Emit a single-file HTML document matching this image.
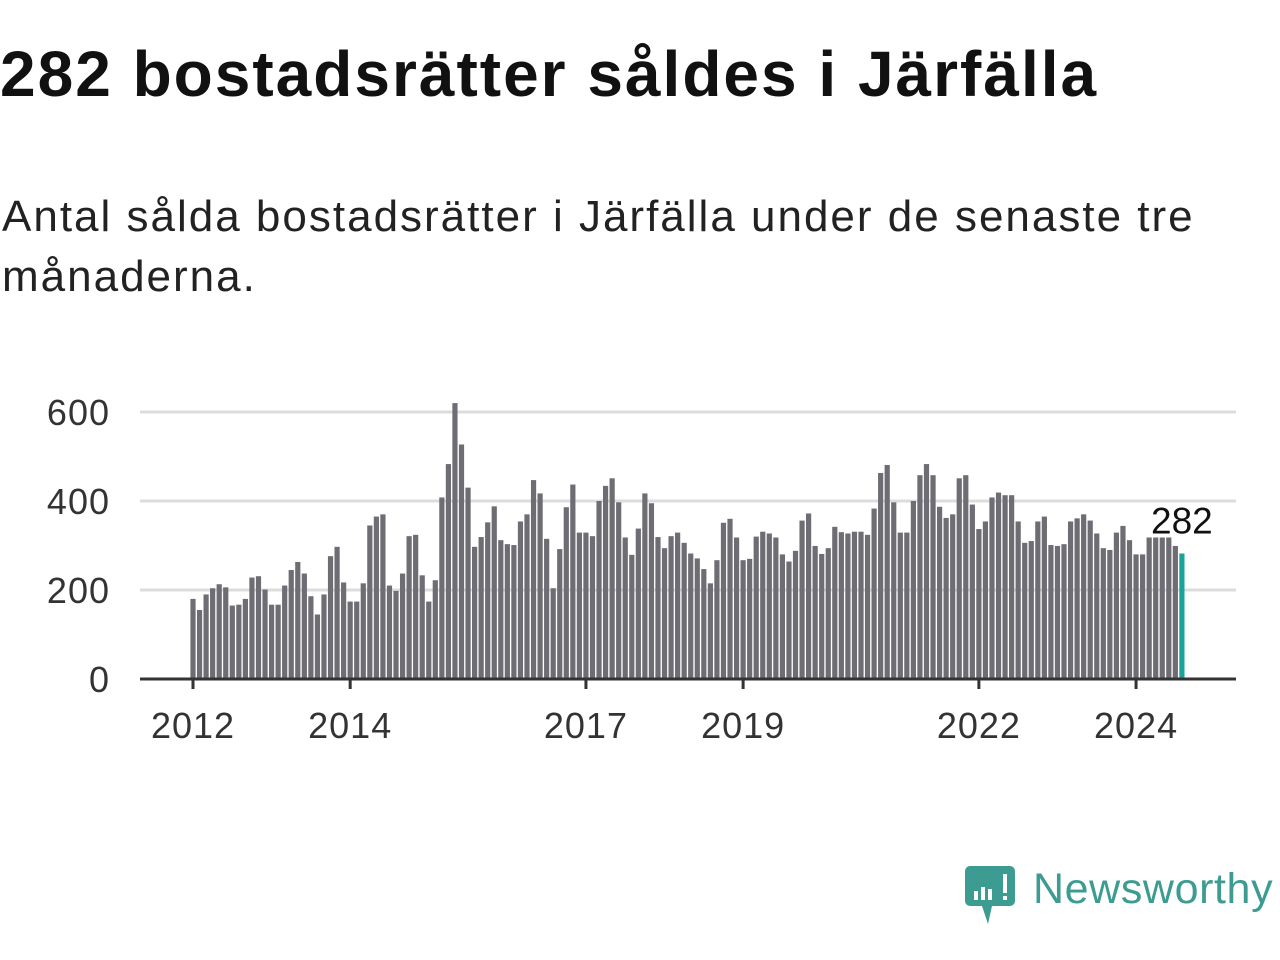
<!DOCTYPE html>
<html><head><meta charset="utf-8">
<style>
html,body{margin:0;padding:0;background:#fff;}
body{width:1280px;height:960px;position:relative;overflow:hidden;font-family:"Liberation Sans","DejaVu Sans",sans-serif;}
h1{position:absolute;left:0;top:37px;margin:0;font-size:64px;font-weight:bold;color:#111;letter-spacing:2px;}
p.sub{position:absolute;left:2px;top:187px;margin:0;font-size:44px;line-height:60px;color:#222;width:1270px;letter-spacing:2px;}
svg{position:absolute;left:0;top:0;}
</style></head>
<body>
<h1>282 bostadsrätter såldes i Järfälla</h1>
<p class="sub">Antal sålda bostadsrätter i Järfälla under de senaste tre månaderna.</p>
<svg id="chart" width="1280" height="960"></svg>
<svg width="1280" height="960" style="pointer-events:none">
  <path d="M970 866 h40 a5 5 0 0 1 5 5 v30 a5 5 0 0 1 -5 5 h-18 l-4 18 l-6 -18 h-12 a5 5 0 0 1 -5 -5 v-30 a5 5 0 0 1 5 -5z" fill="#3d9c91"/>
  <rect x="974" y="891" width="4" height="9" fill="#fff"/>
  <rect x="981" y="887" width="4" height="13" fill="#fff"/>
  <rect x="988" y="889" width="4" height="11" fill="#fff"/>
  <rect x="1003" y="874" width="4" height="19" fill="#fff"/>
  <rect x="1003" y="896" width="4" height="4" fill="#fff"/>
  <text x="1033" y="903" font-size="43" letter-spacing="0.6" fill="#3d9c91" font-family="Liberation Sans, sans-serif">Newsworthy</text>
</svg>
<script>
const values = [180,155,190,204,213,206,165,167,180,228,231,201,
167,167,210,245,263,237,186,145,190,276,297,217,
174,174,215,345,365,370,210,198,237,321,324,233,
174,222,408,483,620,527,430,297,319,352,388,312,
303,301,354,370,447,417,315,204,292,386,437,329,
329,321,400,434,451,397,318,279,338,417,395,319,
294,321,329,306,282,271,247,215,267,351,360,318,
267,270,320,331,327,318,280,264,288,356,372,299,
281,294,342,330,327,331,331,324,383,463,481,397,
329,329,400,458,483,458,387,362,370,451,458,392,
337,354,408,419,413,413,354,306,310,354,365,301,
299,303,354,361,370,356,327,294,290,329,344,312,
280,280,318,318,318,318,299,282];
const yTicks = [0,200,400,600];
const xTickLabels = ["2012","2014","2017","2019","2022","2024"];
const xTickMonths = [0,24,60,84,120,144];
const lastLabel = "282";

const NS="http://www.w3.org/2000/svg";
const svg=document.getElementById('chart');
const y0=679, pxPerUnit=267/600;
const yScale=v=>y0-v*pxPerUnit;
const xScale=i=>193+i*6.549;
function mk(tag,attrs){const e=document.createElementNS(NS,tag);for(const k in attrs)e.setAttribute(k,attrs[k]);svg.appendChild(e);return e;}
yTicks.forEach(t=>{
  if(t>0){const g=mk('line',{x1:140,x2:1236,y1:yScale(t),y2:yScale(t),stroke:'#dcdcdc','stroke-width':3});
  
  }
  const tx=mk('text',{x:110,y:yScale(t)+13,'text-anchor':'end','font-size':36,'letter-spacing':1,fill:'#333'});
  tx.textContent=t;
  
  
});
values.forEach((v,i)=>{
  const last=i===values.length-1;
  const r=mk('rect',{x:xScale(i)-2.6,y:yScale(v),width:5.2,height:v*pxPerUnit,fill:last?'#1aa39a':'#6e6d74'});
  
  
});
const ax=mk('line',{x1:140,x2:1236,y1:y0,y2:y0,stroke:'#333','stroke-width':3});


xTickMonths.forEach((m,k)=>{
  const t=mk('line',{x1:xScale(m),x2:xScale(m),y1:y0,y2:y0+10,stroke:'#333','stroke-width':3});
  
  
  const tx=mk('text',{x:xScale(m),y:738,'text-anchor':'middle','font-size':36,'letter-spacing':1,fill:'#333'});
  tx.textContent=xTickLabels[k];
  
  
});
const li=values.length-1;
const lb=mk('text',{x:xScale(li),y:yScale(values[li])-20,'text-anchor':'middle','font-size':37,fill:'#111',stroke:'#fff','stroke-width':6,'paint-order':'stroke'});
lb.textContent=lastLabel;


</script>
</body></html>
